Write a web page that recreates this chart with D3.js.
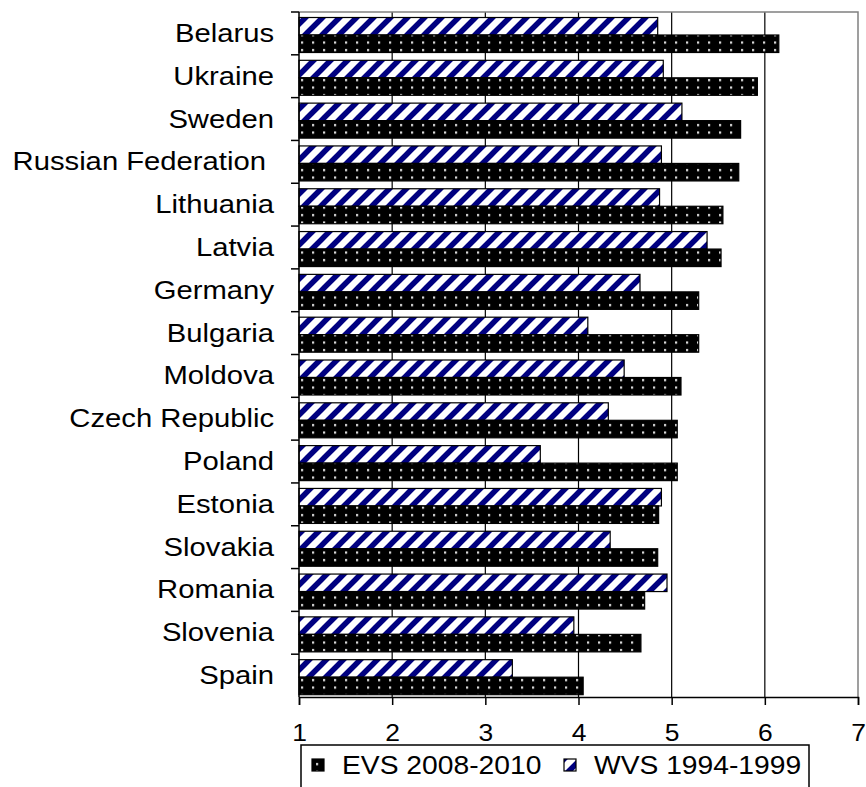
<!DOCTYPE html>
<html>
<head>
<meta charset="utf-8">
<script src="https://cdn.jsdelivr.net/npm/d3@7"></script>
<style>
    body { margin: 0; background: #fff; }
    text { font-family: "Liberation Sans", Arial, sans-serif; fill: #000; }
</style>
</head>
<body>
<div class="chart"></div>
<script>
// countries, top to bottom
const countries = ["Belarus", "Ukraine", "Sweden", "Russian Federation", "Lithuania", "Latvia", "Germany", "Bulgaria",
    "Moldova", "Czech Republic", "Poland", "Estonia", "Slovakia", "Romania", "Slovenia", "Spain"];
// values
const evs = [6.15, 5.92, 5.74, 5.72, 5.55, 5.53, 5.29, 5.29, 5.10, 5.06, 5.06, 4.86, 4.85, 4.71, 4.67, 4.05];
const wvs = [4.85, 4.91, 5.11, 4.89, 4.87, 5.38, 4.66, 4.10, 4.49, 4.32, 3.59, 4.89, 4.34, 4.95, 3.95, 3.29];
const xTicks = [1, 2, 3, 4, 5, 6, 7];
const seriesNames = ["WVS 1994-1999", "EVS 2008-2010"];   // order inside each band (wvs on top)
const legendNames = ["EVS 2008-2010", "WVS 1994-1999"];

const width = 866;
const height = 787;
const margin = {top: 12, right: 8, bottom: 90, left: 299};

const svg = d3.select(".chart")
    .append("svg")
    .attr("width", width)
    .attr("height", height);

svg.append("rect")
    .attr("width", width)
    .attr("height", height)
    .attr("fill", "#fff");

// patterns: navy diagonal hatch and black with little white dots
const defs = svg.append("defs");
const hatch = defs.append("pattern")
    .attr("id", "hatch")
    .attr("patternUnits", "userSpaceOnUse")
    .attr("width", 17)
    .attr("height", 17);
hatch.append("rect").attr("width", 17).attr("height", 17).attr("fill", "#fff");
hatch.append("path")
    .attr("d", "M-5,5 L5,-5 M0,17 L17,0 M12,22 L22,12")
    .attr("stroke", "#000080")
    .attr("stroke-width", 5.5);

const dots = defs.append("pattern")
    .attr("id", "dots")
    .attr("patternUnits", "userSpaceOnUse")
    .attr("width", 11)
    .attr("height", 7.5)
    .attr("y", 2);
dots.append("rect").attr("width", 11).attr("height", 7.5).attr("fill", "#000");
dots.append("rect").attr("x", 4).attr("y", 2).attr("width", 2.2).attr("height", 2.2).attr("fill", "#e0e0e0");

const x = d3.scaleLinear()
    .domain([1, 7])
    .range([margin.left, width - margin.right]);

const y = d3.scaleBand()
    .domain(countries)
    .range([margin.top, height - margin.bottom])
    .padding(0);

// two bars per country, small gap above, tiny one below
const y1 = d3.scaleBand()
    .domain(seriesNames)
    .range([5.5, 40.5]);

const plotBottom = height - margin.bottom;

// vertical grid lines
svg.append("g")
    .selectAll("line")
    .data(xTicks.slice(1, -1))
    .enter()
    .append("line")
    .attr("x1", d => x(d))
    .attr("x2", d => x(d))
    .attr("y1", margin.top)
    .attr("y2", plotBottom)
    .attr("stroke", "#000")
    .attr("stroke-width", 1.2);

// gray frame on top and right
svg.append("path")
    .attr("d", `M${x(1)},${margin.top}H${x(7)}V${plotBottom}`)
    .attr("fill", "none")
    .attr("stroke", "#808080")
    .attr("stroke-width", 1.5);

const rows = countries.map((c, i) => ({country: c, wvs: wvs[i], evs: evs[i]}));

// wvs bars (hatched)
svg.append("g")
    .selectAll("rect")
    .data(rows)
    .enter()
    .append("rect")
    .attr("x", x(1))
    .attr("y", d => y(d.country) + y1(seriesNames[0]))
    .attr("width", d => x(d.wvs) - x(1))
    .attr("height", y1.bandwidth())
    .attr("fill", "url(#hatch)")
    .attr("stroke", "#000")
    .attr("stroke-width", 1.2);

// evs bars (dotted black)
svg.append("g")
    .selectAll("rect")
    .data(rows)
    .enter()
    .append("rect")
    .attr("x", x(1))
    .attr("y", d => y(d.country) + y1(seriesNames[1]))
    .attr("width", d => x(d.evs) - x(1))
    .attr("height", y1.bandwidth())
    .attr("fill", "url(#dots)")
    .attr("stroke", "#000")
    .attr("stroke-width", 1.2);

// x axis
const xAxis = svg.append("g")
    .attr("transform", `translate(0, ${plotBottom})`)
    .call(d3.axisBottom(x).tickValues(xTicks).tickSize(8).tickFormat(d3.format("d")));
xAxis.select(".domain").attr("stroke", "#000").attr("stroke-width", 1.5);
xAxis.selectAll(".tick line").attr("stroke", "#000").attr("stroke-width", 1.5);
xAxis.selectAll(".tick text")
    .attr("y", 0)
    .attr("dy", 0)
    .attr("font-size", 23)
    .attr("text-anchor", "middle")
    .attr("transform", "translate(0, 44) scale(1.15, 1)");

// y axis, ticks sit on the band edges
svg.append("line")
    .attr("x1", x(1)).attr("x2", x(1))
    .attr("y1", margin.top).attr("y2", plotBottom)
    .attr("stroke", "#000").attr("stroke-width", 1.5);
svg.append("g")
    .selectAll("line")
    .data(countries)
    .enter()
    .append("line")
    .attr("x1", x(1) - 8)
    .attr("x2", x(1))
    .attr("y1", d => y(d))
    .attr("y2", d => y(d))
    .attr("stroke", "#000")
    .attr("stroke-width", 1.5);

svg.append("g")
    .selectAll("text")
    .data(countries)
    .enter()
    .append("text")
    .attr("transform", d => `translate(${d === "Russian Federation" ? 266 : 274}, ${y(d) + y.bandwidth() / 2 + 8.5}) scale(1.17, 1)`)
    .attr("text-anchor", "end")
    .attr("font-size", 25)
    .text(d => d);

// legend box at the bottom, partly cut off by the picture edge
const legend = svg.append("g");
legend.append("rect")
    .attr("x", 301)
    .attr("y", 745)
    .attr("width", 508)
    .attr("height", 60)
    .attr("fill", "#fff")
    .attr("stroke", "#000")
    .attr("stroke-width", 1.5);

const legendItems = legend.selectAll("g.item")
    .data(legendNames)
    .enter()
    .append("g")
    .attr("class", "item")
    .attr("transform", (d, i) => `translate(${i === 0 ? 312 : 564}, 759)`);

legendItems.append("rect")
    .attr("width", 12)
    .attr("height", 12)
    .attr("fill", d => d === legendNames[0] ? "url(#dots)" : "url(#hatch)")
    .attr("stroke", "#000")
    .attr("stroke-width", 1.2);

legendItems.append("text")
    .attr("transform", "translate(30, 15) scale(1.13, 1)")
    .attr("font-size", 25)
    .text(d => d);
</script>
</body>
</html>
